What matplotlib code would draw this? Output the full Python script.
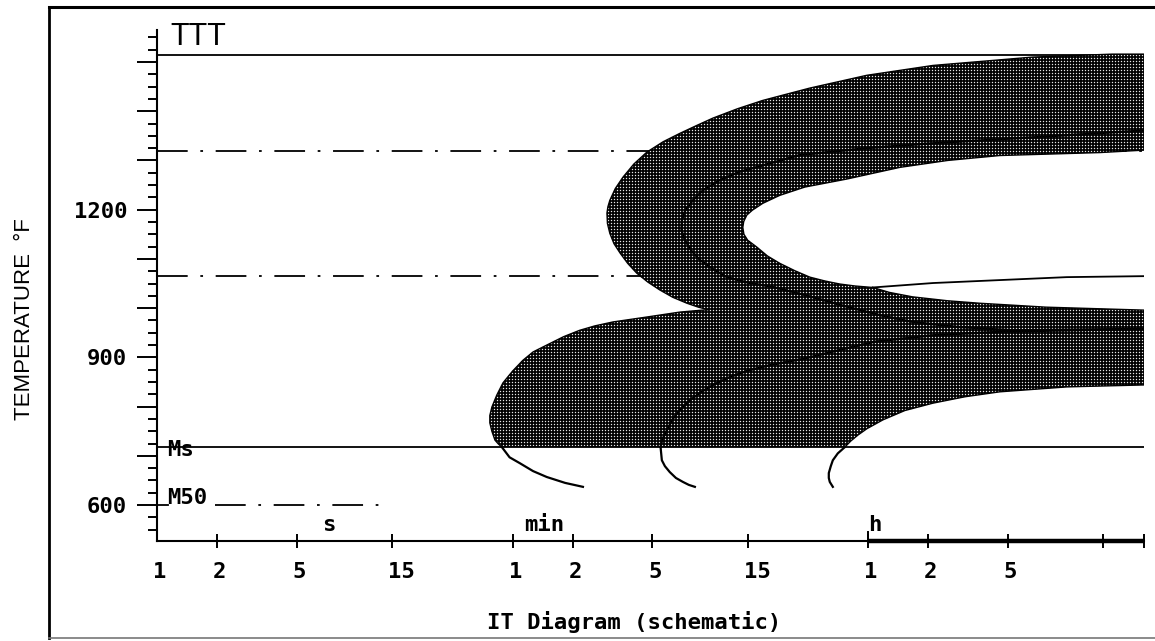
"""Schematic IT (TTT) diagram with shaded pearlite / bainite bands."""

import matplotlib

matplotlib.use("Agg")

import matplotlib.pyplot as plt
import numpy as np
from matplotlib.lines import Line2D
from matplotlib.patches import Polygon
from matplotlib.ticker import NullLocator
from matplotlib.transforms import ScaledTranslation, blended_transform_factory

OUTPUT = "out.png"

# axis ranges: time in seconds (log scale), temperature in deg F
TIME_RANGE = (1, 86400)
TEMP_RANGE = (527, 1565)

X_TICKS = [1, 2, 5, 15, 60, 120, 300, 900, 3600, 7200, 18000, 54000, 86400]
X_TICK_LABELS = ["1", "2", "5", "15", "1", "2", "5", "15", "1", "2", "5", "", ""]
UNIT_LABELS = ["s", "min", "h"]
UNIT_TIMES = [7.2, 86, 3900]
UNIT_TEMP = 560

Y_MAJOR = list(range(600, 1501, 100))
Y_MINOR = [v for v in range(550, 1551, 25) if v % 100]
Y_LABELLED = [600, 900, 1200]

# horizontal reference lines
TOP_LINE_TEMP = 1515
DASH_TEMPS = [1320, 1065]
DASH_END_TIMES = [86400, 600]
MS_TEMP = 718
M50_TEMP = 600
M50_TIMES = [1.95, 14]
LABEL_TIME = 1.13
MS_LABEL_TEMP = 712
M50_LABEL_TEMP = 614

# pearlite start curve (outer edge of upper C), right end -> nose -> junction
pearlite_start_t = [86400, 60000, 24000, 7600, 3550, 1840, 1072, 800, 603, 500, 412,
                    340, 282, 243, 214, 196, 184, 180, 178, 179, 184, 193, 207, 226,
                    251, 285, 327, 380, 447, 510, 570]
pearlite_start_T = [1516, 1516, 1510, 1493, 1473, 1447, 1422, 1405, 1386, 1371, 1355,
                    1338, 1317, 1293, 1266, 1243, 1219, 1206, 1193, 1172, 1152, 1131,
                    1112, 1091, 1071, 1053, 1037, 1022, 1010, 1002, 997]

# bainite start curve, junction -> Ms line
bainite_start_t = [570, 412, 282, 191, 155, 130, 108, 89, 76, 67.6, 60, 53.7, 50,
                   47.3, 46.2, 46.2, 47.3, 49, 51, 53]
bainite_start_T = [997, 992, 982, 972, 964, 955, 942, 925, 911, 894, 872, 848, 823,
                   799, 782, 767, 750, 732, 724, 718]
bainite_start_tail_t = [53, 58, 65.3, 76, 89, 110, 135]
bainite_start_tail_T = [718, 697, 685, 669, 657, 645, 637]

# pearlite finish curve (edge of the white pocket), right end -> nose -> junction
pearlite_finish_t = [86400, 52000, 16400, 9000, 5200, 2800, 1740, 1300, 1072, 950,
                     891, 860, 851, 862, 900, 1000, 1130, 1303, 1550, 1841, 2200,
                     2600, 3100, 3800]
pearlite_finish_T = [1321, 1316, 1310, 1300, 1286, 1262, 1246, 1229, 1213, 1199,
                     1189, 1176, 1164, 1150, 1138, 1124, 1106, 1091, 1076, 1063,
                     1055, 1049, 1045, 1042]
pearlite_finish_line_t = [3800, 7600, 16400, 35500, 86400]
pearlite_finish_line_T = [1042, 1051, 1057, 1063, 1065]

# upper edge of the lower band on the right
bainite_top_t = [3800, 4600, 6000, 9000, 13000, 28000, 86400]
bainite_top_T = [1042, 1032, 1023, 1015, 1010, 1002, 996]

# bainite finish curve, Ms line -> right end
bainite_finish_t = [2760, 2950, 3200, 3550, 4270, 5500, 7600, 11000, 16400, 35500, 86400]
bainite_finish_T = [718, 730, 742, 755, 773, 792, 807, 820, 830, 840, 844]
bainite_finish_tail_t = [2760, 2541, 2400, 2344, 2291, 2291, 2317, 2400]
bainite_finish_tail_T = [718, 705, 691, 679, 665, 655, 647, 637]

# 50 % lines inside the bands
pearlite_half_t = [86400, 24000, 7600, 3550, 1641, 1072, 820, 653, 540, 479, 440, 422,
                   420, 437, 470, 519, 600, 708, 900, 1202, 1800, 2700, 4200, 6000,
                   10000, 19000, 86400]
pearlite_half_T = [1361, 1347, 1335, 1325, 1311, 1290, 1277, 1260, 1240, 1219, 1200,
                   1179, 1158, 1138, 1117, 1098, 1080, 1063, 1052, 1043, 1025, 1005,
                   985, 972, 962, 955, 958]
bainite_half_t = [330, 338, 355, 380, 412, 460, 519, 610, 733, 900, 1161, 1750, 2600,
                  3900, 7600, 16400, 86400]
bainite_half_T = [718, 735, 752, 775, 793, 812, 828, 845, 860, 873, 884, 898, 915,
                  932, 945, 952, 958]
bainite_half_tail_t = [330, 335, 347, 367, 394, 427, 457, 490]
bainite_half_tail_T = [718, 691, 679, 667, 655, 647, 641, 637]

MONO = {"family": "DejaVu Sans Mono", "weight": "bold", "size": 16}


def band_outline():
    """Outline of the shaded region, built from the curves above."""
    t = (pearlite_start_t + bainite_start_t[1:] + bainite_finish_t
         + bainite_top_t[::-1] + pearlite_finish_t[::-1][1:])
    T = (pearlite_start_T + bainite_start_T[1:] + bainite_finish_T
         + bainite_top_T[::-1] + pearlite_finish_T[::-1][1:])
    return np.column_stack([t, T])


def main():
    fig = plt.figure(figsize=(11.55, 6.41), dpi=100)
    ax = fig.add_axes([157 / 1155, 100 / 641, 987 / 1155, 511 / 641])
    ax.set_xscale("log")

    # dotted screen texture, clipped to the bands
    h, w = int(round(ax.bbox.height)), int(round(ax.bbox.width))
    cell = np.array([[0.0, 0.12, 0.0], [0.12, 0.9, 0.12], [0.0, 0.12, 0.0]])
    texture = np.tile(cell, (h // 3 + 1, w // 3 + 1))[:h, :w]
    im = ax.imshow(texture, cmap="gray", vmin=0, vmax=1, interpolation="nearest",
                   extent=(0, 1, 0, 1), transform=ax.transAxes, aspect="auto", zorder=2)
    clip = Polygon(band_outline(), closed=True, transform=ax.transData)
    im.set_clip_path(clip)

    ax.set_xlim(TIME_RANGE)
    ax.set_ylim(TEMP_RANGE)
    ax.set_autoscale_on(False)

    # reference lines
    ax.plot(TIME_RANGE, [TOP_LINE_TEMP] * 2, color="black", lw=1.3, zorder=1)
    for temp, end in zip(DASH_TEMPS, DASH_END_TIMES):
        ax.plot([TIME_RANGE[0], end], [temp] * 2, color="black", lw=1.3,
                ls=(0, (17, 7, 1.5, 7)), zorder=1)
    ax.plot(TIME_RANGE, [MS_TEMP] * 2, color="black", lw=1.3, zorder=4)
    ax.plot(M50_TIMES, [M50_TEMP] * 2, color="black", lw=1.3, ls=(0, (17, 7, 1.5, 7)))
    ax.plot([TIME_RANGE[0], LABEL_TIME], [M50_TEMP] * 2, color="black", lw=1.3)

    # band edges and internal lines
    edge = {"color": "black", "lw": 1.0, "zorder": 3}
    ax.plot(pearlite_start_t, pearlite_start_T, **edge)
    ax.plot(bainite_start_t, bainite_start_T, **edge)
    ax.plot(pearlite_finish_t, pearlite_finish_T, **edge)
    ax.plot(bainite_top_t, bainite_top_T, **edge)
    ax.plot(bainite_finish_t, bainite_finish_T, **edge)
    line = {"color": "black", "lw": 1.6, "zorder": 3}
    ax.plot(pearlite_finish_line_t, pearlite_finish_line_T, color="black", lw=1.3)
    ax.plot(pearlite_half_t, pearlite_half_T, **line)
    ax.plot(bainite_half_t, bainite_half_T, **line)
    ax.plot(bainite_start_tail_t, bainite_start_tail_T, **line)
    ax.plot(bainite_half_tail_t, bainite_half_tail_T, **line)
    ax.plot(bainite_finish_tail_t, bainite_finish_tail_T, **line)

    ax.text(LABEL_TIME, MS_LABEL_TEMP, "Ms", ha="left", va="center", zorder=5, **MONO)
    ax.text(LABEL_TIME, M50_LABEL_TEMP, "M50", ha="left", va="center", **MONO)

    # spines and ticks
    for side in ("top", "right"):
        ax.spines[side].set_visible(False)
    for side in ("left", "bottom"):
        ax.spines[side].set_linewidth(1.5)

    ax.set_yticks(Y_MAJOR, labels=[str(v) if v in Y_LABELLED else "" for v in Y_MAJOR])
    ax.set_yticks(Y_MINOR, minor=True)
    ax.tick_params(axis="y", which="major", direction="out", length=14.5, width=1.4, pad=7)
    ax.tick_params(axis="y", which="minor", direction="out", length=6.5, width=1.4)
    for lab in ax.get_yticklabels():
        lab.set_fontfamily(MONO["family"])
        lab.set_fontweight(MONO["weight"])
        lab.set_fontsize(MONO["size"])

    ax.set_xticks(X_TICKS, labels=[""] * len(X_TICKS))
    ax.xaxis.set_minor_locator(NullLocator())
    ax.tick_params(axis="x", which="major", direction="inout", length=10, width=1.4)
    ax.xaxis.get_major_ticks()[0].tick1line.set_visible(False)

    xblend = blended_transform_factory(ax.transData, ax.transAxes)
    shift = ScaledTranslation(-0.04, 0, fig.dpi_scale_trans)
    for t, lab in zip(X_TICKS, X_TICK_LABELS):
        ax.text(t, -0.0607, lab, transform=xblend + shift, ha="left", va="center",
                clip_on=False, **MONO)
    for t, lab in zip(UNIT_TIMES, UNIT_LABELS):
        ax.text(t, UNIT_TEMP, lab, ha="center", va="center", **MONO)

    # heavier axis over the hours decade, taller tick at 1 h
    ax.plot([3600, TIME_RANGE[1]], [0, 0], transform=xblend, color="black", lw=3.2,
            clip_on=False, solid_capstyle="butt")
    ax.plot([3600, 3600], [0, 0.018], transform=xblend, color="black", lw=1.4,
            clip_on=False)

    # titles
    fig.text(170 / 1155, 1 - 45 / 641, "TTT", ha="left", va="baseline", fontsize=22,
             family=["Liberation Sans Narrow", "Liberation Sans", "DejaVu Sans"])
    fig.text(25 / 1155, 1 - 319 / 641, "TEMPERATURE  \u00b0F", rotation=90,
             ha="center", va="center", fontsize=16, family="Liberation Sans")
    fig.text(487 / 1155, 1 - 622 / 641, "IT Diagram (schematic)", ha="left",
             va="center", **MONO)

    # page frame
    left, top, bottom = 48.5 / 1155, 1 - 6.5 / 641, 1 - 637.5 / 641
    fig.add_artist(Line2D([left, left], [bottom, top], transform=fig.transFigure,
                          color="black", lw=2))
    fig.add_artist(Line2D([left, 1.01], [top, top], transform=fig.transFigure,
                          color="black", lw=2.2))
    fig.add_artist(Line2D([left, 1.01], [bottom, bottom], transform=fig.transFigure,
                          color="#777777", lw=1.2))

    fig.savefig(OUTPUT, dpi=100)
    plt.close(fig)


if __name__ == "__main__":
    main()
